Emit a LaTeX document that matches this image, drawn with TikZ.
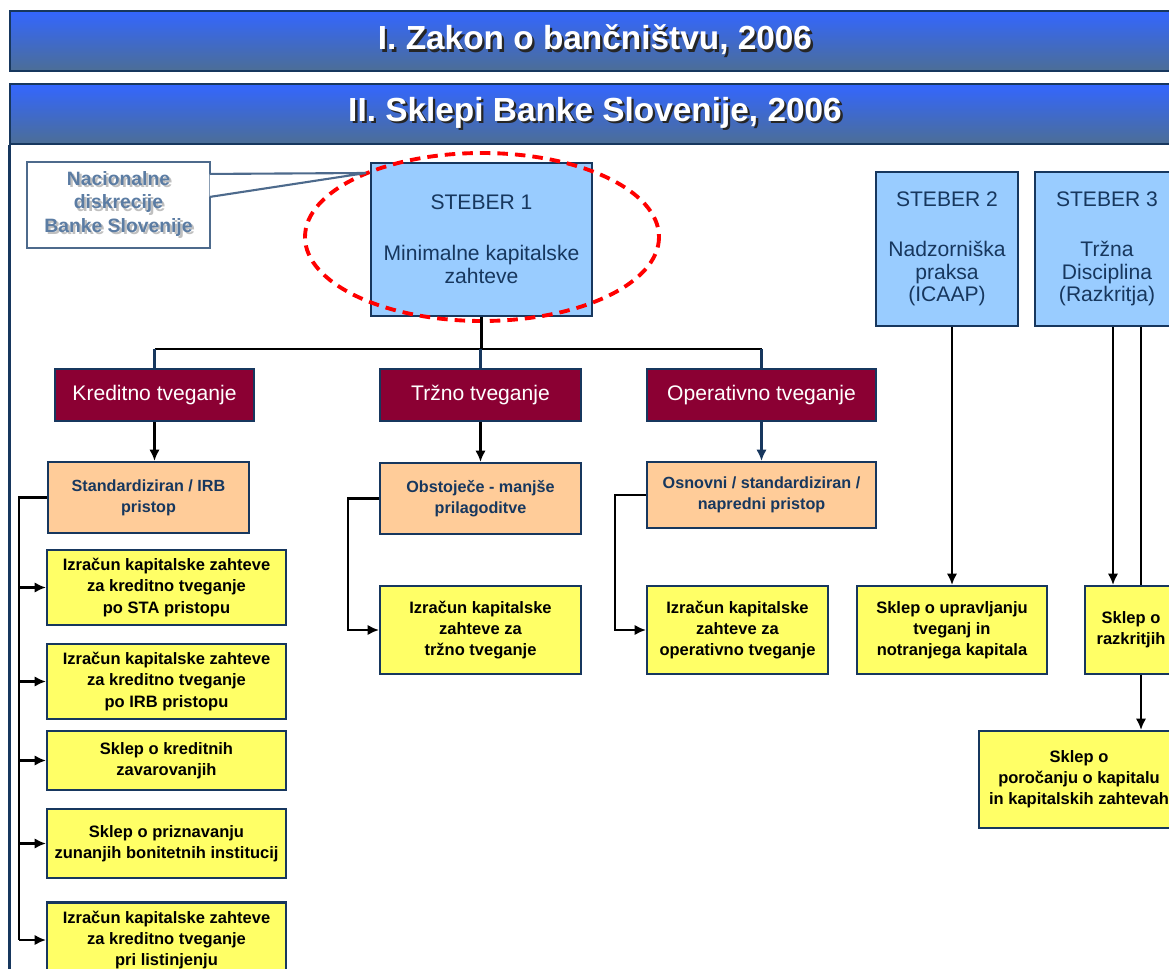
\documentclass[tikz,border=0pt]{standalone}
\usepackage{fontspec}
\setmainfont{Liberation Sans}
\usepackage{xcolor}
\usepackage{tikz}
\usetikzlibrary{calc,arrows.meta}

\definecolor{navy}{HTML}{17375E}
\definecolor{hdrtop}{HTML}{3366FF}
\definecolor{hdrbot}{HTML}{4C6E96}
\definecolor{pillblue}{HTML}{99CCFF}
\definecolor{maroon}{HTML}{8B0033}
\definecolor{peach}{HTML}{FFCC99}
\definecolor{yel}{HTML}{FFFF66}
\definecolor{calltext}{HTML}{5B7CA3}
\definecolor{callborder}{HTML}{4D6A8C}

\newcommand{\shadowtxt}[2]{\makebox[0pt][l]{\hspace{1.3pt}\raisebox{-1.3pt}{\textcolor{#2}{#1}}}#1}

\begin{document}
\begin{tikzpicture}[x=0.02cm,y=-0.02cm,
    hdr/.style={draw=navy,line width=1pt,top color=hdrtop,bottom color=hdrbot,
        minimum width=23.4cm,minimum height=1.2cm,text=white,
        font=\bfseries\fontsize{19}{22}\selectfont},
    pillar/.style={draw=navy,line width=1.2pt,fill=pillblue,text=navy,align=center,
        font=\fontsize{12}{13}\selectfont},
    risk/.style={draw=navy,line width=1.2pt,fill=maroon,text=white,minimum height=1.04cm,
        font=\fontsize{12}{13}\selectfont},
    approach/.style={draw=navy,line width=1.2pt,fill=peach,text=navy,align=center,
        font=\bfseries\fontsize{9.2}{12}\selectfont},
    rulebox/.style={draw=navy,line width=1.2pt,fill=yel,text=black,align=center,
        font=\bfseries\fontsize{9.4}{12}\selectfont},
    link/.style={line width=1.6pt,-{Latex[length=6.5pt,width=6pt]}}
]
    \useasboundingbox (0,0) rectangle (1169,969);
    \clip (0,0) rectangle (1169,969);
    % Headers
    \node[hdr] (zakon)  at (595,41)  {\shadowtxt{I. Zakon o bančništvu, 2006}{black!85}};
    \node[hdr] (sklepi) at (595,114) {\shadowtxt{II. Sklepi Banke Slovenije, 2006}{black!85}};
    \coordinate (frameend) at (10,975);
    \draw[navy,line width=1.8pt] (sklepi.south west) -- (sklepi.south west |- frameend);
    % Pillars
    \node[pillar,minimum width=4.42cm,minimum height=3.06cm] (st1) at (481.5,239.5)
        {STEBER 1\\[0.56cm]Minimalne kapitalske\\zahteve};
    \node[pillar,minimum width=2.84cm,minimum height=3.08cm] (st2) at (947,249)
        {STEBER 2\\[0.54cm]Nadzorniška\\praksa\\(ICAAP)};
    \node[pillar,minimum width=2.88cm,minimum height=3.08cm] (st3) at (1107,249)
        {STEBER 3\\[0.54cm]Tržna\\Disciplina\\(Razkritja)};
    \draw[red,dashed,line width=2.2pt,dash pattern=on 6pt off 4pt] (482,237) ellipse [x radius=177,y radius=84];
    % Callout
    \node[draw=callborder,line width=1.2pt,fill=white,minimum width=3.66cm,minimum height=1.72cm,
        text=calltext,align=center,font=\bfseries\fontsize{11}{13.4}\selectfont] (nacdisk) at (118.5,205)
        {\shadowtxt{Nacionalne}{black!25}\\\shadowtxt{diskrecije}{black!25}\\\shadowtxt{Banke Slovenije}{black!25}};
    \coordinate (tip) at (366,173);
    \draw[callborder,line width=1.2pt,fill=white] ([xshift=-0.8pt,yshift=-0.26cm]nacdisk.north east)
        -- (tip) -- ([xshift=-0.8pt,yshift=-0.72cm]nacdisk.north east);
    % Risks
    \node[risk,minimum width=3.98cm] (kred) at (154.5,395) {Kreditno tveganje};
    \node[risk,minimum width=4.02cm] (trz)  at (480.5,395) {Tržno tveganje};
    \node[risk,minimum width=4.58cm] (oper) at (761.5,395) {Operativno tveganje};
    \draw[line width=1.4pt] (st1.south) -- ++(0,32) coordinate (bus);
    \draw[line width=1.4pt] (kred.north |- bus) -- (oper.north |- bus);
    \foreach \r in {kred,trz,oper} {
        \draw[navy,line width=1.4pt] (\r.north |- bus) -- (\r.north);
    }
    % Approaches
    \node[approach,minimum width=4.02cm,minimum height=1.42cm] (std) at (148.5,497.5) {Standardiziran / IRB\\pristop};
    \node[approach,minimum width=4.02cm,minimum height=1.42cm] (obs) at (480.5,498.5) {Obstoječe - manjše\\prilagoditve};
    \node[approach,minimum width=4.58cm,minimum height=1.32cm] (osn) at (761.5,495) {Osnovni / standardiziran /\\napredni pristop};
    \draw[link] (kred.south) -- (kred.south |- std.north);
    \draw[link] (trz.south) -- (trz.south |- obs.north);
    \draw[link,navy] (oper.south) -- (oper.south |- osn.north);
    % Rules - credit risk
    \node[rulebox,minimum width=4.78cm,minimum height=1.5cm]  (r1) at (166.5,587.5) {Izračun kapitalske zahteve\\za kreditno tveganje\\po STA pristopu};
    \node[rulebox,minimum width=4.78cm,minimum height=1.5cm]  (r2) at (166.5,681.5) {Izračun kapitalske zahteve\\za kreditno tveganje\\po IRB pristopu};
    \node[rulebox,minimum width=4.78cm,minimum height=1.18cm] (r3) at (166.5,760.5) {Sklep o kreditnih\\zavarovanjih};
    \node[rulebox,minimum width=4.78cm,minimum height=1.38cm] (r4) at (166.5,843.5) {Sklep o priznavanju\\zunanjih bonitetnih institucij};
    \node[rulebox,minimum width=4.78cm,minimum height=1.5cm]  (r5) at (166.5,940)   {Izračun kapitalske zahteve\\za kreditno tveganje\\pri listinjenju};
    \draw[line width=1.6pt] (std.west) -- ++(-28,0) coordinate (kbus) -- (kbus |- r5.west);
    \foreach \r in {r1,r2,r3,r4,r5} {
        \draw[link] (kbus |- \r.west) -- (\r.west);
    }
    % Rules - market and operational risk
    \node[rulebox,minimum width=4.02cm,minimum height=1.76cm] (ytr) at (480.5,630) {Izračun kapitalske\\zahteve za\\tržno tveganje};
    \node[rulebox,minimum width=3.62cm,minimum height=1.76cm] (yop) at (737.5,630) {Izračun kapitalske\\zahteve za\\operativno tveganje};
    \draw[link] (obs.west) -- ++(-31,0) |- (ytr.west);
    \draw[link] (osn.west) -- ++(-31,0) |- (yop.west);
    % Rules - pillars 2 and 3
    \node[rulebox,minimum width=3.8cm,minimum height=1.76cm]  (ys2) at (952,630) {Sklep o upravljanju\\tveganj in\\notranjega kapitala};
    \node[rulebox,minimum width=1.84cm,minimum height=1.76cm] (ys3) at (1131,630) {Sklep o\\razkritjih};
    \node[rulebox,minimum width=4.0cm,minimum height=1.94cm]  (ypor) at (1079,779.5) {Sklep o\\poročanju o kapitalu\\in kapitalskih zahtevah};
    \draw[link] (ys2.north |- st2.south) -- (ys2.north);
    \draw[link] ([xshift=0.12cm]st3.south) -- ([xshift=0.12cm]st3.south |- ys3.north);
    \coordinate (d3) at ([xshift=0.68cm]st3.south);
    \draw[line width=1.6pt] (d3) -- (d3 |- ys3.north);
    \draw[link] (d3 |- ys3.south) -- (d3 |- ypor.north);
\end{tikzpicture}
\end{document}
